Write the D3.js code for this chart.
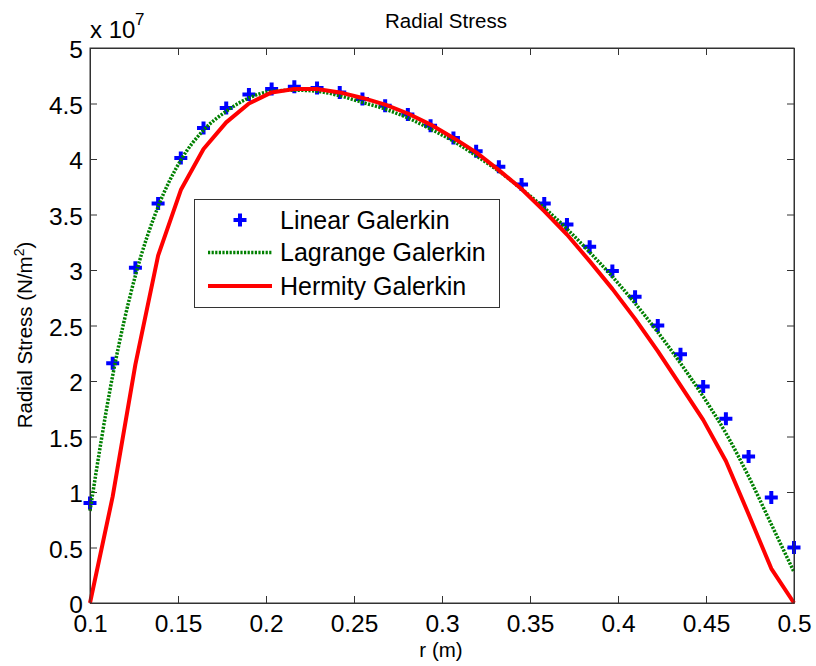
<!DOCTYPE html>
<html>
<head>
<meta charset="utf-8">
<script src="https://cdn.jsdelivr.net/npm/d3@7"></script>
<style>
  html, body { margin: 0; padding: 0; background: #fff; }
  svg { display: block; font-family: "Liberation Sans", Arial, sans-serif; }
</style>
</head>
<body>
<svg id="chart" width="816" height="666"></svg>
<script>
// Radius nodes (m)
const radius = [0.1000, 0.1129, 0.1258, 0.1387, 0.1516, 0.1645, 0.1774, 0.1903,
                0.2032, 0.2161, 0.2290, 0.2419, 0.2548, 0.2677, 0.2806, 0.2935,
                0.3065, 0.3194, 0.3323, 0.3452, 0.3581, 0.3710, 0.3839, 0.3968,
                0.4097, 0.4226, 0.4355, 0.4484, 0.4613, 0.4742, 0.4871, 0.5000];

// Radial stress, units of 1e7 N/m^2
const linearGalerkin = [0.90, 2.16, 3.02, 3.60, 4.01, 4.28, 4.46, 4.58, 4.63, 4.65, 4.64,
                        4.60, 4.54, 4.48, 4.40, 4.30, 4.19, 4.07, 3.93, 3.77, 3.60, 3.41,
                        3.21, 2.99, 2.76, 2.50, 2.24, 1.95, 1.66, 1.32, 0.95, 0.50];
const lagrangeGalerkin = [0.83, 2.05, 2.95, 3.57, 3.99, 4.26, 4.43, 4.55, 4.61, 4.62, 4.61,
                          4.57, 4.51, 4.45, 4.37, 4.27, 4.16, 4.03, 3.89, 3.73, 3.56, 3.37,
                          3.16, 2.94, 2.70, 2.44, 2.16, 1.86, 1.53, 1.14, 0.71, 0.28];
const hermityGalerkin = [0, 0.96, 2.15, 3.13, 3.72, 4.09, 4.33, 4.50, 4.60, 4.63, 4.63,
                         4.60, 4.55, 4.49, 4.41, 4.31, 4.19, 4.06, 3.90, 3.73, 3.53, 3.32,
                         3.08, 2.83, 2.56, 2.27, 1.96, 1.65, 1.28, 0.80, 0.31, 0];

const xTicks = [0.1, 0.15, 0.2, 0.25, 0.3, 0.35, 0.4, 0.45, 0.5];
const yTicks = [0, 0.5, 1, 1.5, 2, 2.5, 3, 3.5, 4, 4.5, 5];
const legendLabels = ["Linear Galerkin", "Lagrange Galerkin", "Hermity Galerkin"];

const plot = { left: 90, right: 794, top: 48, bottom: 603 };
const axisColor = "#333";

const svg = d3.select("#chart");
const x = d3.scaleLinear().domain([0.1, 0.5]).range([plot.left, plot.right]);
const y = d3.scaleLinear().domain([0, 5]).range([plot.bottom, plot.top]);

const fmt = d => String(d);

// Bottom axis with inward ticks
const gx = svg.append("g").attr("transform", `translate(0,${plot.bottom})`)
  .call(d3.axisBottom(x).tickValues(xTicks).tickSizeInner(-7).tickSizeOuter(0).tickFormat(fmt));
gx.selectAll("text").attr("y", 29).attr("dy", null)
  .style("font-size", "24.5px").attr("fill", "#000");

// Top axis (ticks only)
const gxt = svg.append("g").attr("transform", `translate(0,${plot.top})`)
  .call(d3.axisTop(x).tickValues(xTicks).tickSizeInner(-7).tickSizeOuter(0).tickFormat(""));

// Left axis
const gy = svg.append("g").attr("transform", `translate(${plot.left},0)`)
  .call(d3.axisLeft(y).tickValues(yTicks).tickSizeInner(-7).tickSizeOuter(0).tickFormat(fmt));
gy.selectAll("text").attr("x", -7).attr("dy", "9.5px")
  .style("font-size", "24.5px").attr("fill", "#000");

// Right axis (ticks only)
const gyr = svg.append("g").attr("transform", `translate(${plot.right},0)`)
  .call(d3.axisRight(y).tickValues(yTicks).tickSizeInner(-7).tickSizeOuter(0).tickFormat(""));

[gx, gxt, gy, gyr].forEach(g => {
  g.attr("font-family", null).attr("font-size", null);
  g.selectAll("line").attr("stroke", axisColor);
  g.select(".domain").attr("stroke", axisColor);
});

// Series: markers, dotted line, solid line
const pts = radius.map((r, i) => ({ r, lin: linearGalerkin[i], lag: lagrangeGalerkin[i], her: hermityGalerkin[i] }));
const plusPath = "M-6.5,0H6.5M0,-6.5V6.5";

svg.append("g").selectAll("path").data(pts).join("path")
  .attr("transform", d => `translate(${x(d.r)},${y(d.lin)})`)
  .attr("d", plusPath).attr("stroke", "#0000ff").attr("stroke-width", 4).attr("fill", "none");

svg.append("path").datum(pts)
  .attr("d", d3.line().x(d => x(d.r)).y(d => y(d.lag)).curve(d3.curveMonotoneX))
  .attr("fill", "none").attr("stroke", "#008000").attr("stroke-width", 3.5)
  .attr("stroke-dasharray", "2.2,1.4");

svg.append("path").datum(pts)
  .attr("d", d3.line().x(d => x(d.r)).y(d => y(d.her)))
  .attr("fill", "none").attr("stroke", "#ff0000").attr("stroke-width", 4)
  .attr("stroke-linejoin", "round");

// Frame on top
svg.append("rect").attr("x", plot.left).attr("y", plot.top)
  .attr("width", plot.right - plot.left).attr("height", plot.bottom - plot.top)
  .attr("fill", "none").attr("stroke", axisColor).attr("stroke-width", 1);

// Exponent label
const ex = svg.append("text").attr("x", 90).attr("y", 38).style("font-size", "24px");
ex.append("tspan").text("x 10");
svg.append("text").attr("x", 135).attr("y", 25).style("font-size", "17px").text("7");

// Title and axis labels
svg.append("text").attr("x", 446).attr("y", 28).attr("text-anchor", "middle")
  .style("font-size", "20.5px").text("Radial Stress");
svg.append("text").attr("x", 441).attr("y", 657).attr("text-anchor", "middle")
  .style("font-size", "20.5px").text("r (m)");
const yl = svg.append("text").attr("transform", "translate(32,335) rotate(-90)")
  .attr("text-anchor", "middle").style("font-size", "20.5px");
yl.append("tspan").text("Radial Stress (N/m");
yl.append("tspan").attr("dy", -8).style("font-size", "14px").text("2");
yl.append("tspan").attr("dy", 8).text(")");

// Legend
const lg = svg.append("g");
lg.append("rect").attr("x", 194.5).attr("y", 199.5).attr("width", 305).attr("height", 108)
  .attr("fill", "#fff").attr("stroke", axisColor).attr("stroke-width", 1);
const rowY = [220, 252.5, 286];
lg.append("path").attr("transform", `translate(240,${rowY[0]})`).attr("d", plusPath)
  .attr("stroke", "#0000ff").attr("stroke-width", 4).attr("fill", "none");
lg.append("line").attr("x1", 208).attr("x2", 272).attr("y1", rowY[1]).attr("y2", rowY[1])
  .attr("stroke", "#008000").attr("stroke-width", 3.5).attr("stroke-dasharray", "2.2,1.4");
lg.append("line").attr("x1", 208).attr("x2", 272).attr("y1", rowY[2]).attr("y2", rowY[2])
  .attr("stroke", "#ff0000").attr("stroke-width", 4);
lg.selectAll("text.lab").data(legendLabels).join("text").attr("class", "lab")
  .attr("x", 280).attr("y", (d, i) => rowY[i] + 8.8)
  .style("font-size", "25px").text(d => d);
</script>
</body>
</html>
